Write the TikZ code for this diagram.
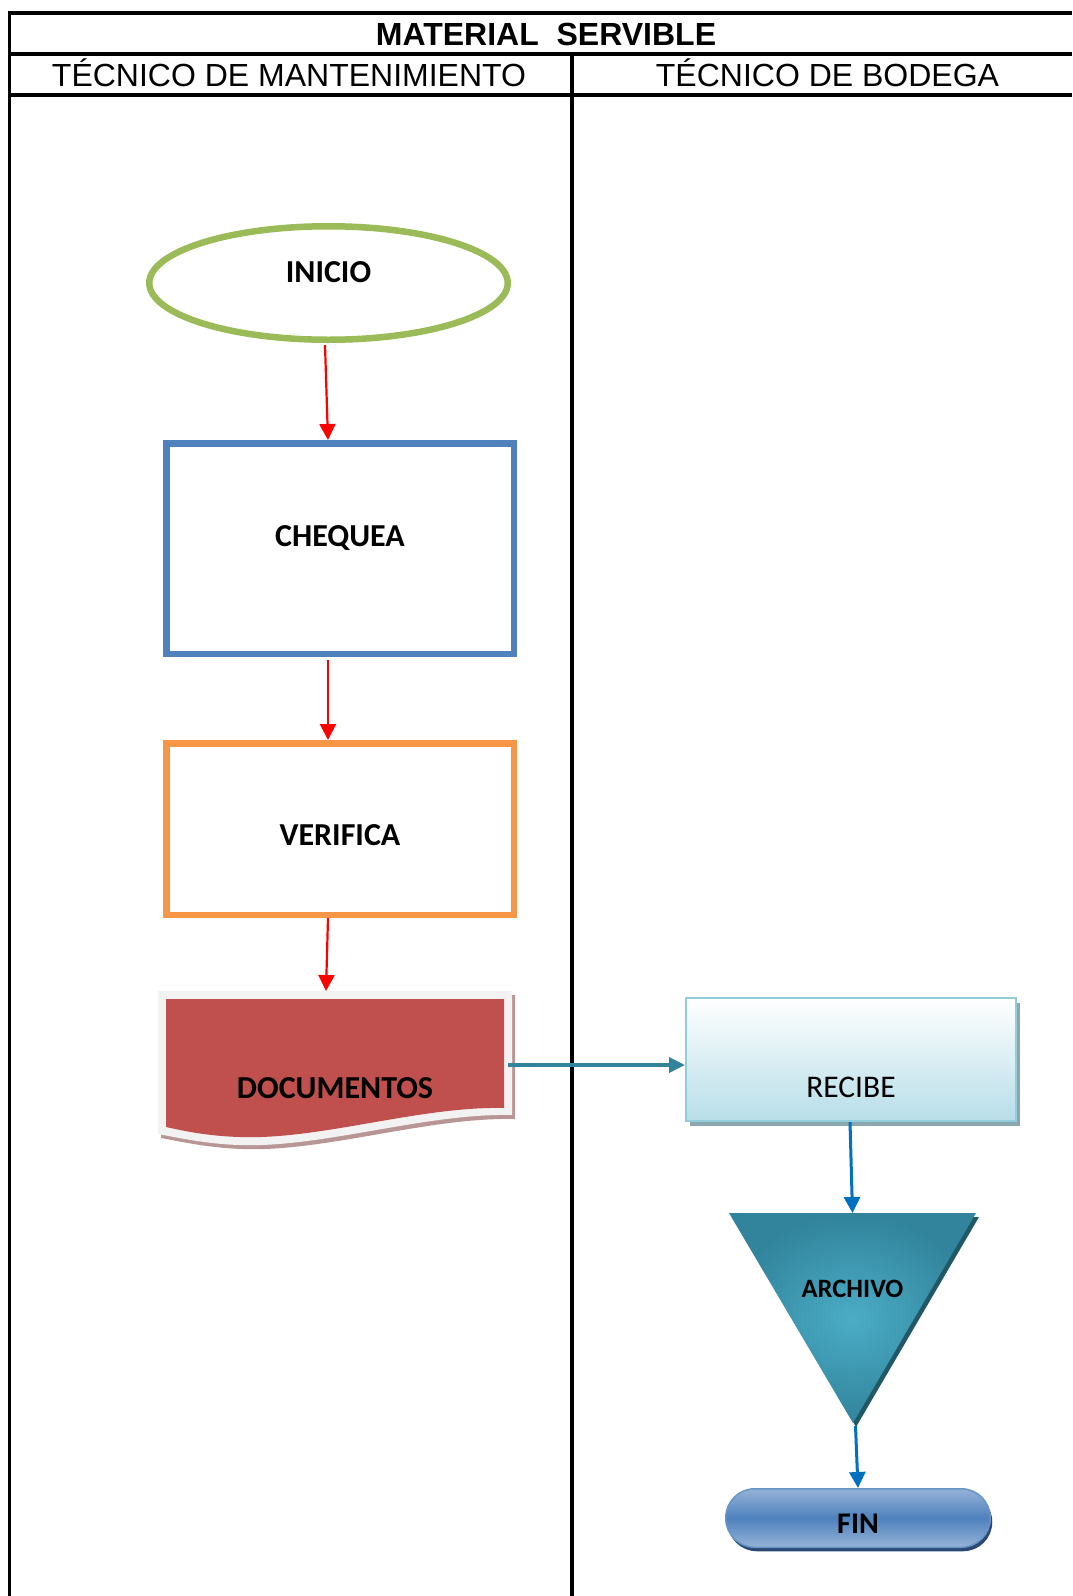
\documentclass[tikz,border=0pt]{standalone}
\usepackage{fontspec}
\setmainfont{Liberation Sans}
\newfontfamily\carlito{Carlito}
\usetikzlibrary{arrows.meta,shapes.geometric,shadows,calc}

\definecolor{inigreen}{HTML}{9BBB59}
\definecolor{chkblue}{HTML}{4F81BD}
\definecolor{verorange}{HTML}{F79646}
\definecolor{docred}{HTML}{C0504D}
\definecolor{docrim}{HTML}{F2F2F2}
\definecolor{docshade}{RGB}{185,150,150}
\definecolor{rcvborder}{HTML}{92CDDC}
\definecolor{rcvfill}{HTML}{B7DDE8}
\definecolor{rcvshadow}{RGB}{140,166,174}
\definecolor{archdark}{HTML}{31849B}
\definecolor{archlight}{HTML}{4BACC6}
\definecolor{archshadow}{HTML}{215868}
\definecolor{flowred}{HTML}{FF0000}
\definecolor{flowteal}{HTML}{31849B}
\definecolor{flowblue}{HTML}{0070C0}
\definecolor{finlight}{HTML}{95B3D7}
\definecolor{finmid}{HTML}{4F81BD}
\definecolor{finshadow}{HTML}{2A4A74}

\tikzset{
  tableline/.style={draw=black, line width=3.5pt, line join=miter},
  titletext/.style={font=\bfseries\fontsize{32}{32}\selectfont, anchor=base, inner sep=0pt},
  lanetext/.style={font=\fontsize{32}{32}\selectfont, anchor=base, inner sep=0pt},
  lbl/.style={font=\carlito\bfseries\fontsize{32}{32}\selectfont, text=black, inner sep=0pt},
  startnode/.style={ellipse, draw=inigreen, line width=6.5pt, fill=white,
    minimum width=358.5pt, minimum height=113.5pt, lbl},
  procbox/.style={rectangle, line width=6.5pt, fill=white,
    minimum width=347.5pt, lbl},
  docnode/.style={rectangle, draw=none, minimum width=346pt, minimum height=148pt,
    outer sep=0pt, lbl},
  recvbox/.style={rectangle, draw=rcvborder, line width=2pt,
    top color=white, bottom color=rcvfill,
    minimum width=330pt, minimum height=123pt, inner sep=0pt,
    font=\carlito\fontsize{31.5}{31.5}\selectfont,
    drop shadow={shadow xshift=4pt, shadow yshift=-5pt, fill=rcvshadow, opacity=1}},
  storenode/.style={rectangle, draw=none, minimum width=247pt, minimum height=210pt,
    outer sep=0pt, inner sep=0pt, font=\carlito\bfseries\fontsize{26.5}{26.5}\selectfont},
  endnode/.style={rectangle, rounded corners=29pt, draw=chkblue!85!white, line width=1.5pt,
    top color=finlight, bottom color=finlight, middle color=finmid,
    minimum width=264.5pt, minimum height=58.5pt, inner sep=0pt,
    font=\carlito\bfseries\fontsize{30}{30}\selectfont,
    drop shadow={shadow xshift=2pt, shadow yshift=-4pt, fill=finshadow, opacity=1}},
  redflow/.style={draw=flowred, line width=2.2pt, -{Triangle[width=16pt,length=16pt]}},
  tealflow/.style={draw=flowteal, line width=3.5pt, -{Triangle[width=15pt,length=16pt]}},
  blueflow/.style={draw=flowblue, line width=3pt, -{Triangle[width=16pt,length=16pt]}},
}

\begin{document}
\begin{tikzpicture}[x=1pt,y=-1pt]
\useasboundingbox (0,0) rectangle (1072,1596);
\fill[white] (0,0) rectangle (1072,1596);

% swimlane table
\draw[tableline] (1072,13) -- (9.5,13) -- (9.5,1600);
\draw[tableline] (9.5,54) -- (1072,54);
\draw[tableline] (9.5,95) -- (1072,95);
\draw[tableline] (572,54) -- (572,1600);

\node[titletext] (title) at (546,45) {MATERIAL\ \ SERVIBLE};
\node[lanetext] (lane1) at (289,86.5) {TÉCNICO DE MANTENIMIENTO};
\node[lanetext] (lane2) at (827.5,86.5) {TÉCNICO DE BODEGA};

% left lane
\node[startnode, text height=20pt, text depth=22pt] (inicio) at (328.5,283) {INICIO};
\node[procbox, draw=chkblue, minimum height=210.5pt, text height=20pt, text depth=25pt]
  (chequea) at (340,548.5) {CHEQUEA};
\node[procbox, draw=verorange, minimum height=171.5pt, text height=34pt, text depth=2pt]
  (verifica) at (340,829) {VERIFICA};

% document symbol: shadow, light rim, red body
\fill[docshade, shift={(3,4)}] (158,991) -- (512,991) -- (512,1115)
  .. controls (425,1113) and (322,1148) .. (240,1145)
  .. controls (205,1144) and (175,1137) .. (158,1134) -- cycle;
\fill[docrim] (158,991) -- (512,991) -- (512,1115)
  .. controls (425,1113) and (322,1148) .. (240,1145)
  .. controls (205,1144) and (175,1137) .. (158,1134) -- cycle;
\fill[docred] (166,999) -- (504,999) -- (504,1108)
  .. controls (420,1106) and (320,1140) .. (240,1137)
  .. controls (205,1136) and (180,1130) .. (166,1127) -- cycle;
\node[docnode, text height=68pt, text depth=2pt] (documentos) at (335,1065) {DOCUMENTOS};

% right lane
\node[recvbox, text height=78pt, text depth=2pt] (recibe) at (851,1059.5) {RECIBE};

% storage triangle
\fill[archshadow] (732,1217) -- (979,1217) -- (856,1427) -- cycle;
\shade[inner color=archlight, outer color=archdark]
  (729,1213) -- (976,1213) -- (853,1423) -- cycle;
\node[storenode, text height=4pt, text depth=45.3pt] (archivo) at (852.5,1318) {ARCHIVO};

\node[endnode, text height=33pt, text depth=1.7pt] (fin) at (858,1518) {FIN};

% connectors
\draw[redflow] ([xshift=-3.5pt,yshift=-2pt]inicio.south) -- ([xshift=-12pt]chequea.north);
\draw[redflow] ([xshift=-12pt,yshift=-3pt]chequea.south) -- ([xshift=-12pt]verifica.north);
\draw[redflow] ([xshift=-12pt]verifica.south) -- ([xshift=-9pt]documentos.north);
\draw[tealflow] (documentos.east) -- (documentos.east -| recibe.west);
\draw[blueflow] ([xshift=-1pt]recibe.south) -- (archivo.north);
\draw[blueflow] ([xshift=3pt,yshift=-3pt]archivo.south) -- (fin.north);
\end{tikzpicture}
\end{document}
